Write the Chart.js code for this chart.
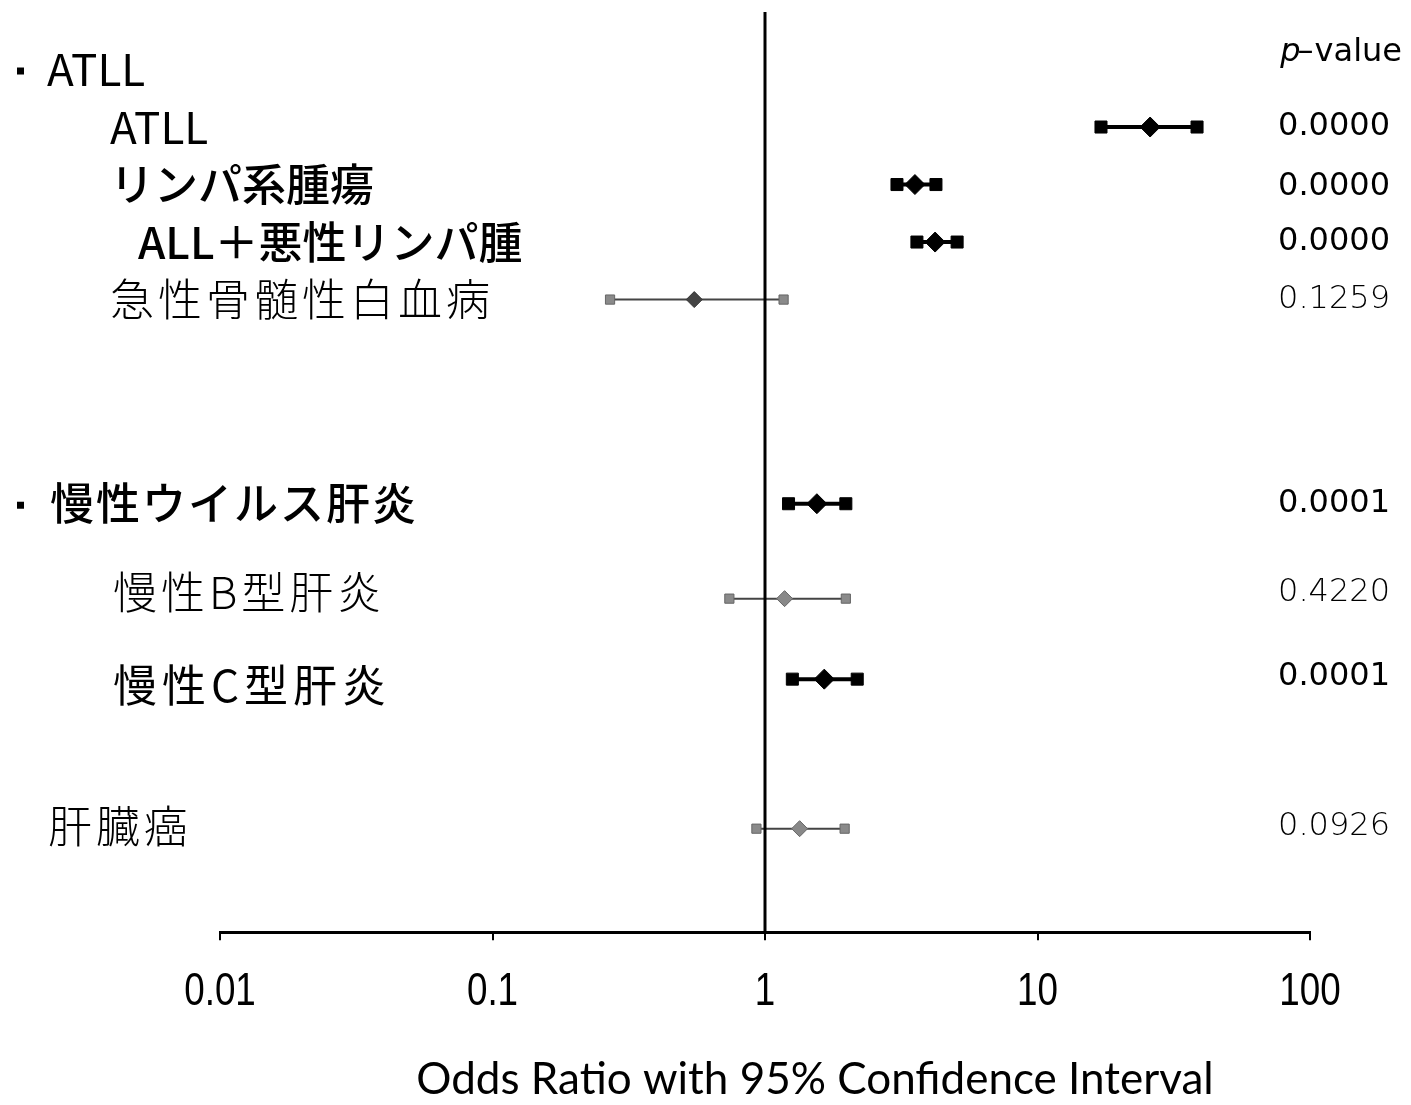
<!DOCTYPE html>
<html>
<head>
<meta charset="utf-8">
<script src="https://cdn.jsdelivr.net/npm/chart.js@4.4.0/dist/chart.umd.min.js"></script>
<style>
  body { margin: 0; background: #fff; }
  #wrap { width: 1411px; height: 1105px; position: relative; }
</style>
</head>
<body>
<div id="wrap"><canvas id="myChart"></canvas></div>
<script>
// data
const categories = ['ATLL', 'リンパ系腫瘍', 'ALL＋悪性リンパ腫', '急性骨髄性白血病', '慢性ウイルス肝炎', '慢性B型肝炎', '慢性C型肝炎', '肝臓癌'];
const oddsRatio = [25.9, 3.55, 4.21, 0.55, 1.55, 1.18, 1.65, 1.34];
const ciLower = [17.1, 3.05, 3.61, 0.27, 1.22, 0.74, 1.26, 0.93];
const ciUpper = [38.5, 4.24, 5.07, 1.17, 1.98, 1.98, 2.18, 1.96];
const pValues = ['0.0000', '0.0000', '0.0000', '0.1259', '0.0001', '0.4220', '0.0001', '0.0926'];
const rowIndex = [2, 3, 4, 5, 8.55, 10.2, 11.6, 14.2];
const groupHeaders = ['ATLL', '慢性ウイルス肝炎'];
const groupRows = [1, 8.55];
const tickValues = [0.01, 0.1, 1, 10, 100];
const xTitle = 'Odds Ratio with 95% Confidence Interval';

// look of each row label (x, weight, letter spacing, small vertical nudge)
const labelStyle = [
  { x: 110, w: '400', sp: 0, dy: 0 },
  { x: 110, w: '500', sp: 0, dy: 0 },
  { x: 138, w: '500', sp: 0, dy: 0 },
  { x: 110, w: '300', sp: 4, dy: 0 },
  null, // drawn as group header
  { x: 113, w: '300', sp: 4, dy: -6 },
  { x: 113, w: '400', sp: 5, dy: 6 },
  { x: 48, w: '300', sp: 4, dy: -2 }
];
const pDy = [0, 2, 0, 0, 0, -6, -2, -2];

const datasets = [];
for (let i = 0; i < categories.length; i++) {
  const sig = parseFloat(pValues[i]) < 0.05;
  const y = rowIndex[i];
  datasets.push({
    data: [{ x: ciLower[i], y: y }, { x: oddsRatio[i], y: y }, { x: ciUpper[i], y: y }],
    showLine: true,
    borderColor: sig ? '#000' : '#444',
    borderWidth: sig ? 4 : 2,
    pointStyle: ['rect', 'rectRot', 'rect'],
    pointRadius: sig ? [8.5, 10, 8.5] : [6.5, 8, 6.5],
    pointBackgroundColor: sig ? '#000' : ['#8a8a8a', i === 3 ? '#444' : '#888', '#8a8a8a'],
    pointBorderColor: sig ? '#000' : ['#666', i === 3 ? '#333' : '#666', '#666'],
    pointBorderWidth: 1,
    order: 1
  });
}
// reference line at OR = 1
datasets.push({
  data: [{ x: 1, y: 0 }, { x: 1, y: 16 }],
  showLine: true,
  borderColor: '#000',
  borderWidth: 3,
  pointRadius: 0,
  order: 0
});

const textPlugin = {
  id: 'forestText',
  afterDraw(chart) {
    const ctx = chart.ctx;
    const ys = chart.scales.y;
    const xs = chart.scales.x;
    ctx.save();
    ctx.fillStyle = '#000';
    ctx.textBaseline = 'middle';

    // group headers with square bullet
    const hx = [47, 50];
    const hsp = [0, 2];
    for (let g = 0; g < groupHeaders.length; g++) {
      const py = ys.getPixelForValue(groupRows[g]);
      ctx.fillRect(17, py - 2, 7, 7);
      ctx.font = (g === 0 ? '400' : '500') + ' 44px "Noto Sans CJK JP"';
      ctx.letterSpacing = hsp[g] + 'px';
      ctx.textAlign = 'left';
      ctx.fillText(groupHeaders[g], hx[g], py);
    }

    // row labels
    for (let i = 0; i < categories.length; i++) {
      const s = labelStyle[i];
      if (!s) continue;
      const py = ys.getPixelForValue(rowIndex[i]) + s.dy;
      ctx.font = s.w + ' 44px "Noto Sans CJK JP"';
      ctx.letterSpacing = s.sp + 'px';
      ctx.textAlign = 'left';
      ctx.fillText(categories[i], s.x, py);
    }
    ctx.letterSpacing = '0px';

    // p-values
    ctx.textAlign = 'right';
    for (let i = 0; i < pValues.length; i++) {
      const sig = parseFloat(pValues[i]) < 0.05;
      const py = ys.getPixelForValue(rowIndex[i]) + pDy[i];
      ctx.font = (sig ? '400' : '200') + ' 32px "DejaVu Sans"';
      ctx.fillText(pValues[i], 1390, py);
    }
    // p-value header
    const hy = ys.getPixelForValue(0.7);
    ctx.font = '400 32px "DejaVu Sans"';
    ctx.fillText('value', 1402, hy);
    const vw = ctx.measureText('value').width;
    ctx.fillText('–', 1402 - vw - 1, hy);
    const dw = ctx.measureText('–').width;
    ctx.font = 'italic 400 32px "DejaVu Sans"';
    ctx.fillText('p', 1402 - vw - dw + 2, hy);

    // condensed tick labels under the axis
    ctx.font = '400 46px "Liberation Sans"';
    ctx.textAlign = 'center';
    for (const t of xs.ticks) {
      const px = xs.getPixelForValue(t.value);
      ctx.save();
      ctx.translate(px, 992);
      ctx.scale(0.8, 1);
      ctx.fillText(String(t.value), 0, 0);
      ctx.restore();
    }

    // axis title
    ctx.font = '400 44px Lato';
    ctx.textAlign = 'center';
    ctx.fillText(xTitle, 815, 1080);
    ctx.restore();
  }
};

const ctx = document.getElementById('myChart');
const myChart = new Chart(ctx, {
  type: 'scatter',
  data: { datasets: datasets },
  options: {
    responsive: true,
    maintainAspectRatio: false,
    animation: false,
    layout: { padding: { left: 220, right: 101, top: 12, bottom: 56 } },
    plugins: { legend: { display: false }, tooltip: { enabled: false } },
    scales: {
      x: {
        type: 'logarithmic',
        min: 0.01,
        max: 100,
        afterBuildTicks: (axis) => {
          axis.ticks = tickValues.map(v => ({ value: v }));
        },
        ticks: {
          autoSkip: false,
          maxRotation: 0,
          color: 'rgba(0,0,0,0)',
          padding: 28,
          font: { family: '"Liberation Sans"', size: 44 },
          callback: (v) => String(v)
        },
        grid: { drawOnChartArea: false, drawTicks: true, tickLength: 8, color: '#000', lineWidth: 2 },
        border: { display: true, color: '#000', width: 3 }
      },
      y: {
        display: false,
        min: 0,
        max: 16,
        reverse: true
      }
    }
  },
  plugins: [textPlugin]
});
</script>
</body>
</html>
